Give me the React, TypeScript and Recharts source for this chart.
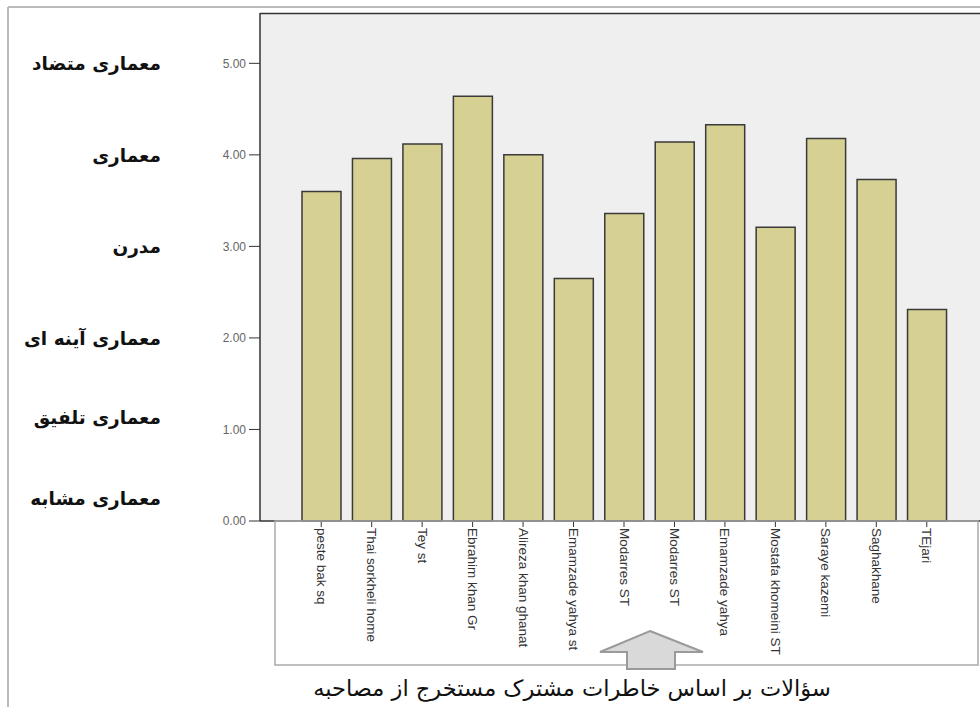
import React from "react";
import { ComposedChart, Bar, XAxis, YAxis, CartesianGrid } from "recharts";

const categories = [
  "peste bak sq",
  "Thai sorkheli home",
  "Tey st",
  "Ebrahim khan Gr",
  "Alireza khan ghanat",
  "Emamzade yahya st",
  "Modarres ST",
  "Modarres ST",
  "Emamzade yahya",
  "Mostafa khomeini ST",
  "Saraye kazemi",
  "Saghakhane",
  "TEjari",
];
const values = [3.6, 3.96, 4.12, 4.64, 4.0, 2.65, 3.36, 4.14, 4.33, 3.21, 4.18, 3.73, 2.31];
const yTicks = [0, 1, 2, 3, 4, 5];
const sideLabels = [
  { text: "معماری متضاد", y: 63 },
  { text: "معماری", y: 155 },
  { text: "مدرن", y: 246 },
  { text: "معماری آینه ای", y: 338 },
  { text: "معماری تلفیق", y: 417 },
  { text: "معماری مشابه", y: 498 },
];
const bottomText = "سؤالات بر اساس خاطرات مشترک مستخرج از مصاحبه";

const data = categories.map((name, i) => ({ key: "c" + i, name, value: values[i] }));

const XTick = (props: any) => {
  const { x, y, payload } = props;
  const label = categories[payload.index];
  return (
    <text
      x={x}
      y={y}
      transform={`rotate(90 ${x} ${y})`}
      textAnchor="start"
      dominantBaseline="central"
      fontSize={13.5}
      fill="#333"
      fontFamily="Arial, 'Liberation Sans', sans-serif"
    >
      {label}
    </text>
  );
};

export default function App() {
  return (
    <div style={{ position: "absolute", left: 0, top: 0, width: 980, height: 707, overflow: "hidden", background: "#fff" }}>
      <ComposedChart
        width={988}
        height={707}
        data={data}
        margin={{ top: 13, right: 0, bottom: 0, left: 0 }}
        style={{ position: "absolute", left: 0, top: 0 }}
      >
        <CartesianGrid fill="#efefef" horizontal={false} vertical={false} stroke="none" />
        <XAxis
          dataKey="key"
          height={186}
          padding={{ left: 36, right: 36 }}
          axisLine={{ stroke: "#333", strokeWidth: 1.5 }}
          tickLine={{ stroke: "#333" }}
          tickSize={6}
          tickMargin={1}
          interval={0}
          tick={<XTick />}
        />
        <YAxis
          width={260}
          domain={[0, 5.55]}
          ticks={yTicks}
          tickFormatter={(v: number) => v.toFixed(2)}
          axisLine={{ stroke: "#333", strokeWidth: 1.5 }}
          tickLine={{ stroke: "#333" }}
          tickSize={11}
          tickMargin={3}
          tick={{ fontSize: 12, fill: "#666", fontFamily: "Arial, 'Liberation Sans', sans-serif" }}
        />
        <Bar dataKey="value" fill="#d6d092" stroke="#3a3a3a" strokeWidth={1.5} barSize={39} isAnimationActive={false} />
      </ComposedChart>
      <svg width={980} height={707} style={{ position: "absolute", left: 0, top: 0, pointerEvents: "none" }}>
        <line x1={8} y1={7} x2={980} y2={7} stroke="#bbb" strokeWidth={2} />
        <line x1={8} y1={7} x2={8} y2={707} stroke="#bbb" strokeWidth={2} />
        <line x1={260} y1={13.5} x2={980} y2={13.5} stroke="#333" strokeWidth={1.5} />
        <rect x={275} y={521} width={703} height={144} fill="none" stroke="#aaa" strokeWidth={1.5} />
        <polygon
          points="650,631 703,652 675,652 675,669 627,669 627,652 600,652"
          fill="#d9d9d9"
          stroke="#9a9a9a"
          strokeWidth={2}
        />
        {sideLabels.map((s, i) => (
          <text
            key={i}
            x={161}
            y={s.y}
            textAnchor="end"
            dominantBaseline="central"
            fontSize={18.5}
            fontWeight="bold"
            fill="#111"
            fontFamily="'DejaVu Sans', sans-serif"
          >
            {s.text}
          </text>
        ))}
        <text
          x={572}
          y={688}
          textAnchor="middle"
          dominantBaseline="central"
          fontSize={22.5}
          fill="#111"
          fontFamily="'DejaVu Sans', sans-serif"
        >
          {bottomText}
        </text>
      </svg>
    </div>
  );
}
